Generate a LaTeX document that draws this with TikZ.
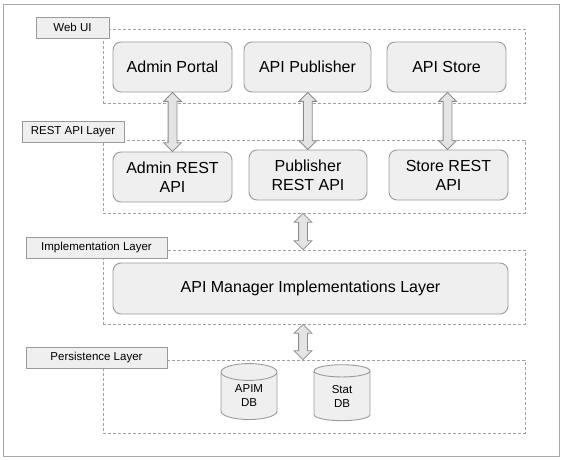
\documentclass[tikz,border=0pt]{standalone}
\usepackage{fontspec}
\setmainfont{Liberation Sans}
\usetikzlibrary{shapes.geometric,shapes.arrows,calc}
\definecolor{boxfill}{HTML}{EFEFEF}
\definecolor{boxline}{HTML}{9A9A9A}
\definecolor{dashline}{HTML}{A0A0A0}
\definecolor{frameline}{HTML}{A8A8A8}
\definecolor{arrowfill}{HTML}{E4E4E4}
\definecolor{arrowline}{HTML}{8C8C8C}
\tikzset{
  compbox/.style={draw=boxline, fill=boxfill, rounded corners=8pt, line width=0.9pt,
    align=center, inner sep=2pt, font=\fontsize{16}{19}\selectfont},
  layerbox/.style={draw=dashline, dash pattern=on 3pt off 2pt, line width=0.8pt, inner sep=0pt},
  labelbox/.style={draw=boxline, fill=boxfill, line width=0.8pt, minimum height=21pt,
    inner sep=0pt, font=\fontsize{11.5}{13}\selectfont},
  dbshape/.style={cylinder, shape border rotate=90, aspect=0.6, draw=boxline, fill=boxfill,
    line width=0.9pt, minimum width=56pt, minimum height=56pt, inner sep=0pt, align=center,
    font=\fontsize{11.5}{14}\selectfont},
  dblarr/.style={double arrow, draw=arrowline, fill=arrowfill, line width=0.8pt,
    minimum width=17pt, double arrow head extend=4.5pt, inner xsep=0pt, inner ysep=4pt,
    font=\fontsize{1}{1}\selectfont, rotate=90},
}
\begin{document}
\begin{tikzpicture}[x=1pt,y=-1pt]
\useasboundingbox (0,0) rectangle (567,460);
\draw[frameline, line width=0.9pt] (3,4) rectangle (559,456);
% layers
\node[layerbox, minimum width=422pt, minimum height=74pt] (web) at (314,66) {};
\node[layerbox, minimum width=422pt, minimum height=73pt] (restl) at (314,176.5) {};
\node[layerbox, minimum width=422pt, minimum height=74pt] (impll) at (314,287) {};
\node[layerbox, minimum width=422pt, minimum height=73pt] (persl) at (314,396.5) {};
% labels
\node[labelbox, minimum width=73pt] (lweb) at (72.5,27.5) {Web UI};
\node[labelbox, minimum width=102pt] (lrest) at (73,131.5) {REST API Layer};
\node[labelbox, minimum width=141pt] (limpl) at (96.5,247.5) {Implementation Layer};
\node[labelbox, minimum width=141pt] (lpers) at (96.5,357.5) {Persistence Layer};
% components
\node[compbox, minimum width=119pt, minimum height=50pt] (ap) at (172.5,67) {Admin Portal};
\node[compbox, minimum width=127pt, minimum height=50pt] (pub) at (307.5,67) {API Publisher};
\node[compbox, minimum width=119pt, minimum height=50pt] (store) at (446.5,67) {API Store};
\node[compbox, minimum width=119pt, minimum height=50pt] (arest) at (172.5,177) {Admin REST\\API};
\node[compbox, minimum width=118pt, minimum height=50pt] (prest) at (308,175) {Publisher\\REST API};
\node[compbox, minimum width=119pt, minimum height=50pt] (srest) at (448.5,175) {Store REST\\API};
\node[compbox, minimum width=395pt, minimum height=51pt] (impl) at (310.5,288.5) {API Manager Implementations Layer};
% databases
\node[dbshape] (apim) at (249,396) {APIM\\DB};
\node[dbshape] (stat) at (342,396) {Stat\\DB};
% arrows
\path let \p1=(ap.south), \p2=(arest.north) in
  node[dblarr, minimum height={\y1-\y2}] (a1) at ($(\p1)!0.5!(\p2)$) {};
\path let \p1=(pub.south), \p2=(prest.north) in
  node[dblarr, minimum height={\y1-\y2}] (a2) at ($(\p1)!0.5!(\p2)$) {};
\path let \p1=(store.south), \p2=(srest.north) in
  node[dblarr, minimum height={\y1-\y2}] (a3) at ($(\p1)!0.5!(\p2)$) {};
\coordinate (c1) at (303,0);
\path let \p1=(restl.south -| c1), \p2=(impll.north -| c1) in
  node[dblarr, minimum height={\y1-\y2}] (a4) at ($(\p1)!0.5!(\p2)$) {};
\path let \p1=(impll.south -| c1), \p2=(persl.north -| c1) in
  node[dblarr, minimum height={\y1-\y2}] (a5) at ($(\p1)!0.5!(\p2)$) {};
\end{tikzpicture}
\end{document}
